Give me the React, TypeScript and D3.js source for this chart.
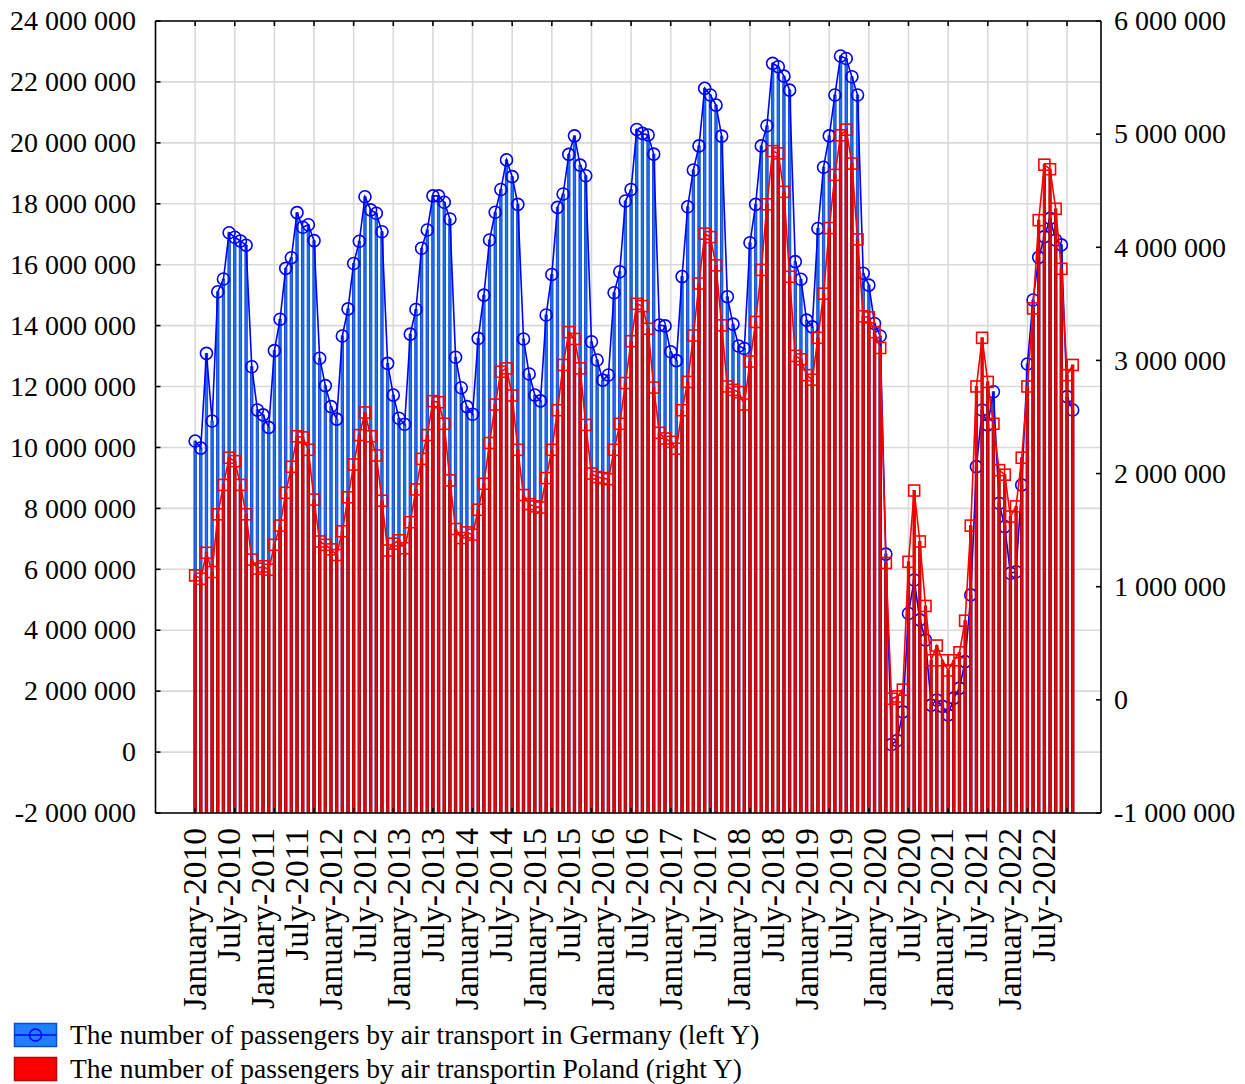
import React from 'react';
import * as d3 from 'd3';

// Monthly passengers (millions), January 2010 – December 2022
const germanyM = [
  10.21, 9.98, 13.09, 10.87, 15.11, 15.53, 17.05, 16.90, 16.78, 16.64, 12.65, 11.23,
  11.07, 10.66, 13.18, 14.21, 15.88, 16.23, 17.71, 17.23, 17.31, 16.79, 12.93, 12.03,
  11.34, 10.93, 13.66, 14.55, 16.04, 16.77, 18.23, 17.80, 17.69, 17.08, 12.76, 11.72,
  10.96, 10.76, 13.72, 14.53, 16.54, 17.14, 18.26, 18.26, 18.05, 17.50, 12.96, 11.96,
  11.34, 11.09, 13.58, 15.00, 16.81, 17.72, 18.47, 19.44, 18.89, 17.98, 13.56, 12.41,
  11.72, 11.53, 14.35, 15.68, 17.88, 18.32, 19.62, 20.23, 19.27, 18.92, 13.47, 12.87,
  12.21, 12.38, 15.08, 15.77, 18.09, 18.47, 20.44, 20.31, 20.26, 19.63, 14.02, 13.99,
  13.14, 12.85, 15.61, 17.90, 19.11, 19.90, 21.79, 21.57, 21.24, 20.22, 14.95, 14.05,
  13.33, 13.25, 16.72, 17.98, 19.90, 20.56, 22.61, 22.50, 22.19, 21.73, 16.10, 15.52,
  14.18, 13.96, 17.19, 19.20, 20.23, 21.57, 22.85, 22.77, 22.17, 21.57, 15.72, 15.33,
  14.07, 13.66, 6.50, 0.25, 0.38, 1.32, 4.55, 5.65, 4.34, 3.68, 1.54, 1.71,
  1.50, 1.22, 1.77, 2.10, 2.97, 5.16, 9.37, 11.23, 10.74, 11.83, 8.17, 7.40,
  5.87, 5.92, 8.77, 12.74, 14.84, 16.24, 16.92, 17.52, 16.81, 16.65, 11.67, 11.23,
];

const polandM = [
  1.10, 1.07, 1.30, 1.13, 1.64, 1.90, 2.14, 2.11, 1.90, 1.64, 1.24, 1.16,
  1.18, 1.15, 1.37, 1.54, 1.83, 2.06, 2.33, 2.32, 2.21, 1.77, 1.40, 1.37,
  1.33, 1.28, 1.49, 1.79, 2.08, 2.34, 2.54, 2.33, 2.16, 1.76, 1.32, 1.38,
  1.41, 1.34, 1.57, 1.86, 2.13, 2.34, 2.64, 2.63, 2.44, 1.94, 1.51, 1.43,
  1.48, 1.46, 1.68, 1.91, 2.27, 2.61, 2.90, 2.93, 2.69, 2.21, 1.81, 1.73,
  1.71, 1.70, 1.96, 2.21, 2.56, 2.96, 3.25, 3.19, 2.93, 2.43, 2.00, 1.97,
  1.96, 1.95, 2.21, 2.44, 2.80, 3.17, 3.50, 3.48, 3.28, 2.76, 2.36, 2.31,
  2.28, 2.22, 2.56, 2.81, 3.22, 3.68, 4.12, 4.09, 3.84, 3.31, 2.77, 2.74,
  2.72, 2.61, 2.99, 3.34, 3.80, 4.38, 4.85, 4.83, 4.49, 3.74, 3.04, 3.01,
  2.87, 2.83, 3.20, 3.59, 4.17, 4.64, 4.99, 5.04, 4.74, 4.07, 3.39, 3.38,
  3.25, 3.11, 1.21, 0.01, 0.03, 0.09, 1.22, 1.85, 1.40, 0.83, 0.35, 0.48,
  0.35, 0.26, 0.35, 0.42, 0.70, 1.54, 2.77, 3.20, 2.81, 2.44, 2.03, 1.99,
  1.62, 1.71, 2.14, 2.77, 3.46, 4.24, 4.73, 4.69, 4.34, 3.81, 2.87, 2.96,
];

const firstYear = 2010;
const lastYear = 2022;
const halfYearMonths = ['January', 'July'];
const leftTicks = d3.range(-2, 24.001, 2);
const rightTicks = d3.range(-1, 6.001, 1);
const legendItems = [
  'The number of passengers by air transport in Germany (left Y)',
  'The number of passengers by air transportin Poland (right Y)',
];

const W = 1245;
const H = 1084;
const plot = { left: 155.5, right: 1101, top: 21, bottom: 813 };
const FONT = '"Liberation Serif", "Times New Roman", serif';

// thousands separated by spaces, plain hyphen for negatives
const fmt = (vM: number) =>
  d3
    .format(',')(Math.round(vM * 1e6))
    .replace(/,/g, ' ')
    .replace('\u2212', '-');

export default function App() {
  const n = germanyM.length;
  const x = d3.scaleLinear().domain([-7, 160]).range([plot.left, plot.right]);
  const yL = d3.scaleLinear().domain([-2, 24]).range([plot.bottom, plot.top]);
  const yR = d3.scaleLinear().domain([-1, 6]).range([plot.bottom, plot.top]);

  const gridMonths = d3.range(0, n, 7);
  const xLabels: { i: number; text: string }[] = [];
  for (let y = firstYear; y <= lastYear; y++) {
    halfYearMonths.forEach((m, k) => {
      xLabels.push({ i: (y - firstYear) * 12 + k * 6, text: `${m}-${y}` });
    });
  }

  const idx = d3.range(n);
  const lineG = d3
    .line<number>()
    .x((i) => x(i))
    .y((i) => yL(germanyM[i]));
  const lineP = d3
    .line<number>()
    .x((i) => x(i))
    .y((i) => yR(polandM[i]));

  const barW = 2.4;
  const sq = 11;

  return (
    <svg
      width={W}
      height={H}
      style={{ position: 'absolute', left: 0, top: 0, background: '#fff' }}
      fontFamily={FONT}
    >
      <defs>
        <clipPath id="plotClip">
          <rect
            x={plot.left}
            y={plot.top - 8}
            width={plot.right - plot.left}
            height={plot.bottom - plot.top + 8}
          />
        </clipPath>
      </defs>

      {/* grid */}
      <g stroke="#d9d9d9" strokeWidth={1.6}>
        {gridMonths.map((i) => (
          <line key={'gx' + i} x1={x(i)} x2={x(i)} y1={plot.top} y2={plot.bottom} />
        ))}
        {leftTicks.map((t) => (
          <line key={'gy' + t} x1={plot.left} x2={plot.right} y1={yL(t)} y2={yL(t)} />
        ))}
      </g>

      <g clipPath="url(#plotClip)">
        {/* Germany needles */}
        <g fill="#2070f2" stroke="#0a48d0" strokeWidth={0.9}>
          {idx.map((i) => (
            <rect
              key={'bg' + i}
              x={x(i) - barW / 2}
              y={yL(germanyM[i])}
              width={barW}
              height={plot.bottom - yL(germanyM[i])}
            />
          ))}
        </g>
        <path d={lineG(idx) || ''} fill="none" stroke="#0000ff" strokeWidth={1.6} />
        <g fill="none" stroke="#0000ff" strokeWidth={1.6}>
          {idx.map((i) => (
            <circle key={'cg' + i} cx={x(i)} cy={yL(germanyM[i])} r={6} />
          ))}
        </g>

        {/* Poland needles */}
        <g fill="#e80808" stroke="#c00000" strokeWidth={0.9}>
          {idx.map((i) => (
            <rect
              key={'bp' + i}
              x={x(i) - barW / 2}
              y={yR(polandM[i])}
              width={barW}
              height={plot.bottom - yR(polandM[i])}
            />
          ))}
        </g>
        <path d={lineP(idx) || ''} fill="none" stroke="#ff0000" strokeWidth={1.6} />
        <g fill="none" stroke="#ff0000" strokeWidth={1.6}>
          {idx.map((i) => (
            <rect
              key={'sp' + i}
              x={x(i) - sq / 2}
              y={yR(polandM[i]) - sq / 2}
              width={sq}
              height={sq}
            />
          ))}
        </g>
      </g>

      {/* frame */}
      <g stroke="#000" strokeWidth={1.6} fill="none">
        <line x1={plot.left} x2={plot.right} y1={plot.top} y2={plot.top} />
        <line x1={plot.left} x2={plot.right} y1={plot.bottom} y2={plot.bottom} />
        <line x1={plot.left} x2={plot.left} y1={plot.top} y2={plot.bottom} />
        <line x1={plot.right} x2={plot.right} y1={plot.top} y2={plot.bottom} />
        {gridMonths.map((i) => (
          <line key={'tt' + i} x1={x(i)} x2={x(i)} y1={plot.top} y2={plot.top + 5} />
        ))}
        {gridMonths.map((i) => (
          <line key={'bt' + i} x1={x(i)} x2={x(i)} y1={plot.bottom} y2={plot.bottom - 5} />
        ))}
        {leftTicks.map((t) => (
          <line key={'lt' + t} x1={plot.left} x2={plot.left + 5} y1={yL(t)} y2={yL(t)} />
        ))}
        {rightTicks.map((t) => (
          <line key={'rt' + t} x1={plot.right - 5} x2={plot.right} y1={yR(t)} y2={yR(t)} />
        ))}
      </g>

      {/* axis labels */}
      <g fontSize={28} fill="#000">
        {leftTicks.map((t) => (
          <text key={'ll' + t} x={136} y={yL(t)} dy="0.33em" textAnchor="end">
            {fmt(t)}
          </text>
        ))}
        {rightTicks.map((t) => (
          <text key={'rl' + t} x={1114} y={yR(t)} dy="0.33em" textAnchor="start">
            {fmt(t)}
          </text>
        ))}
        {xLabels.map((l) => (
          <text
            key={'xl' + l.i}
            transform={`translate(${x(l.i) + 11},${plot.bottom + 15}) rotate(-90)`}
            textAnchor="end"
            fontSize={33.5}
          >
            {l.text}
          </text>
        ))}
      </g>

      {/* legend */}
      <g>
        <rect x={14.5} y={1023.5} width={42} height={23} fill="#1f7fff" stroke="#0050d0" strokeWidth={1.5} />
        <line x1={14.5} x2={56.5} y1={1035} y2={1035} stroke="#0000ff" strokeWidth={1.5} />
        <circle cx={35.5} cy={1035} r={6} fill="none" stroke="#0000ff" strokeWidth={1.5} />
        <rect x={14.5} y={1057.5} width={42} height={23} fill="#ff0000" stroke="#c00000" strokeWidth={1.5} />
        {legendItems.map((t, k) => (
          <text key={t} x={70} y={1044 + k * 34} fontSize={27.5} fill="#000">
            {t}
          </text>
        ))}
      </g>
    </svg>
  );
}
